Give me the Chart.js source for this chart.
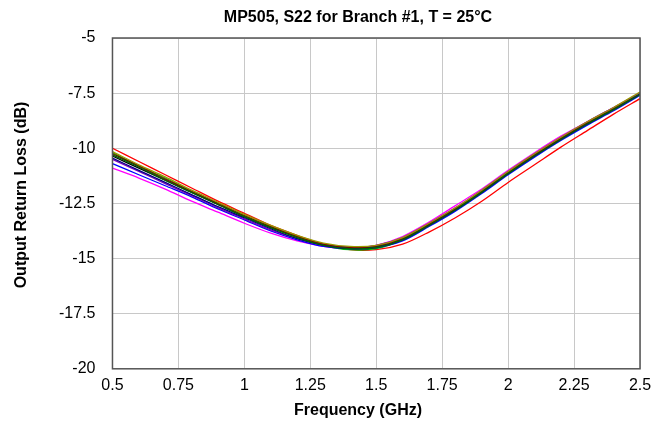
<!DOCTYPE html>
<html><head><meta charset="utf-8">
<script src="https://cdn.jsdelivr.net/npm/chart.js@4"></script>
<style>html,body{margin:0;padding:0;background:#fff}#wrap{width:668px;height:432px}</style>
</head><body><div id="wrap"><canvas id="c" width="668" height="432"></canvas></div>
<script>
const freq = [0.5,0.6,0.7,0.8,0.9,1.0,1.1,1.2,1.3,1.4,1.5,1.6,1.7,1.8,1.9,2.0,2.1,2.2,2.3,2.4,2.5];
const sBlack   = [-10.35,-10.9,-11.45,-12.0,-12.55,-13.1,-13.6,-14.0,-14.35,-14.5,-14.45,-14.1,-13.45,-12.75,-11.95,-11.1,-10.3,-9.55,-8.85,-8.2,-7.55];
const sRed     = [-10.0,-10.6,-11.2,-11.8,-12.4,-12.95,-13.5,-13.95,-14.35,-14.6,-14.6,-14.35,-13.8,-13.15,-12.4,-11.55,-10.75,-9.95,-9.2,-8.45,-7.75];
const sGreen   = [-10.2,-10.8,-11.35,-11.95,-12.5,-13.05,-13.55,-14.0,-14.4,-14.6,-14.55,-14.15,-13.5,-12.8,-12.0,-11.15,-10.35,-9.6,-8.9,-8.2,-7.5];
const sBlue    = [-10.7,-11.2,-11.7,-12.2,-12.75,-13.25,-13.75,-14.15,-14.45,-14.55,-14.5,-14.2,-13.55,-12.85,-12.05,-11.2,-10.4,-9.65,-8.95,-8.3,-7.6];
const sMagenta = [-10.9,-11.35,-11.85,-12.4,-12.9,-13.4,-13.85,-14.2,-14.45,-14.55,-14.4,-14.0,-13.35,-12.6,-11.85,-11.0,-10.2,-9.45,-8.8,-8.15,-7.5];
const sMaroon  = [-10.25,-10.8,-11.4,-11.95,-12.5,-13.05,-13.55,-14.0,-14.35,-14.5,-14.45,-14.1,-13.45,-12.75,-11.95,-11.1,-10.3,-9.55,-8.85,-8.2,-7.55];
const sPurple  = [-10.5,-11.05,-11.6,-12.15,-12.7,-13.2,-13.7,-14.1,-14.4,-14.5,-14.4,-14.05,-13.4,-12.7,-11.9,-11.05,-10.25,-9.5,-8.8,-8.15,-7.5];
const sDkGreen = [-10.3,-10.85,-11.45,-12.0,-12.55,-13.1,-13.6,-14.05,-14.4,-14.55,-14.5,-14.15,-13.5,-12.8,-12.0,-11.15,-10.35,-9.6,-8.9,-8.25,-7.55];
const sNavy    = [-10.45,-11.0,-11.55,-12.1,-12.65,-13.15,-13.65,-14.1,-14.4,-14.55,-14.5,-14.15,-13.5,-12.8,-12.0,-11.15,-10.35,-9.6,-8.9,-8.25,-7.55];
const sOlive   = [-10.15,-10.75,-11.3,-11.9,-12.45,-13.0,-13.5,-13.95,-14.3,-14.45,-14.4,-14.05,-13.4,-12.7,-11.9,-11.05,-10.25,-9.5,-8.8,-8.15,-7.45];
const xTicks = [0.5,0.75,1,1.25,1.5,1.75,2,2.25,2.5];
const yTicks = [-5,-7.5,-10,-12.5,-15,-17.5,-20];
const titleText = 'MP505, S22 for Branch #1, T = 25\u00b0C';
const xTitle = 'Frequency (GHz)';
const yTitle = 'Output Return Loss (dB)';

const series = [
  [sOlive,'#999900'],[sDkGreen,'#006600'],[sNavy,'#000080'],[sMaroon,'#800000'],
  [sPurple,'#8000c0'],[sBlue,'#0000ff'],[sGreen,'#00c000'],[sMagenta,'#ff00ff'],
  [sRed,'#ff0000'],[sBlack,'#000000']
];
const datasets = series.map(([v,c])=>({
  data: freq.map((f,i)=>({x:f,y:v[i]})),
  borderColor:c, borderWidth:1.3, pointRadius:0, tension:0.3, fill:false
}));

const FAM = '"Liberation Sans", Arial, sans-serif';
const frame = {
  id:'frame',
  afterDraw(ch){
    const a=ch.chartArea, ctx=ch.ctx;
    ctx.save(); ctx.strokeStyle='#555'; ctx.lineWidth=1.5;
    ctx.strokeRect(a.left,a.top,a.right-a.left,a.bottom-a.top);
    ctx.fillStyle='#000'; ctx.font='bold 16px '+FAM;
    ctx.textAlign='center'; ctx.textBaseline='middle';
    ctx.fillText(titleText, 358, 18);
    ctx.fillText(xTitle, 358, 411);
    ctx.translate(22,195); ctx.rotate(-Math.PI/2);
    ctx.fillText(yTitle, 0, 0);
    ctx.restore();
  }
};
const font = {family:FAM, size:16};
new Chart(document.getElementById('c'),{
  type:'line',
  data:{datasets},
  plugins:[frame],
  options:{
    responsive:false, animation:false,
    layout:{padding:{left:42,right:28,top:38,bottom:30}},
    plugins:{ legend:{display:false}, tooltip:{enabled:false}, title:{display:false} },
    scales:{
      x:{type:'linear',min:0.5,max:2.5,
        afterBuildTicks(ax){ax.ticks=xTicks.map(v=>({value:v}));},
        ticks:{color:'#000',font,padding:7,maxRotation:0,callback:v=>String(v)},
        grid:{color:'#c8c8c8',lineWidth:1,drawTicks:false},
        border:{display:false}
      },
      y:{type:'linear',min:-20,max:-5,
        afterBuildTicks(ax){ax.ticks=yTicks.map(v=>({value:v}));},
        ticks:{color:'#000',font,padding:17,callback:v=>String(v)},
        grid:{color:'#c8c8c8',lineWidth:1,drawTicks:false},
        border:{display:false}
      }
    }
  }
});
</script></body></html>
